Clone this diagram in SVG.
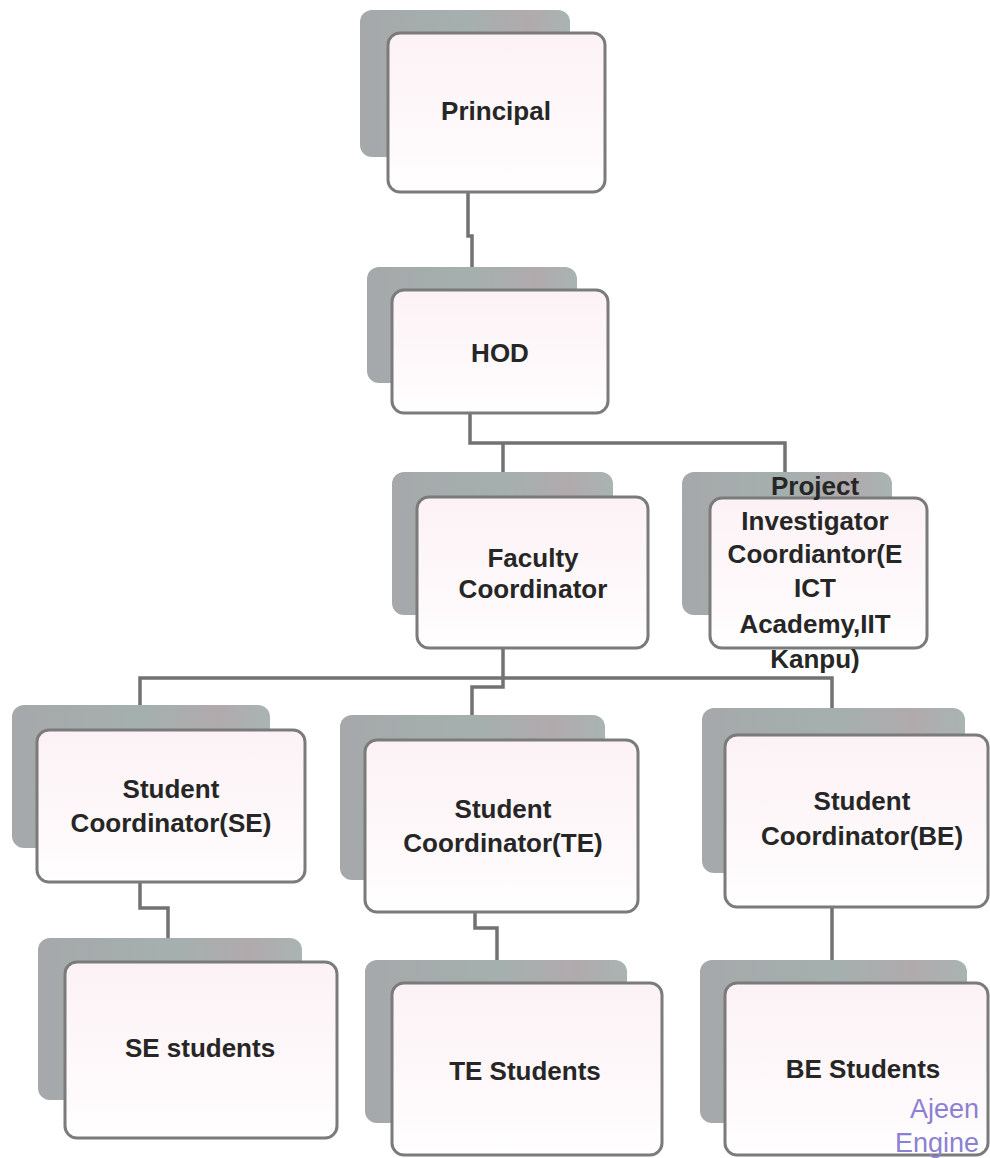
<svg xmlns="http://www.w3.org/2000/svg" width="990" height="1158" viewBox="0 0 990 1158">
  <defs>
    <linearGradient id="backFill" x1="0" y1="0" x2="1" y2="0">
      <stop offset="0" stop-color="#a6a8aa"/>
      <stop offset="0.5" stop-color="#a4b0ae"/>
      <stop offset="0.8" stop-color="#b1aaad"/>
      <stop offset="1" stop-color="#a9b4b2"/>
    </linearGradient>
    <linearGradient id="frontFill" x1="0" y1="0" x2="0" y2="1">
      <stop offset="0" stop-color="#fcf2f5"/>
      <stop offset="0.75" stop-color="#fefafb"/>
      <stop offset="1" stop-color="#ffffff"/>
    </linearGradient>
    <style>
      .back { fill: url(#backFill); }
      .front { fill: url(#frontFill); stroke: #7b7b7b; stroke-width: 3; }
      .lbl { font-family: "Liberation Sans", Arial, sans-serif; font-weight: 700; font-size: 26px; fill: #262626; text-anchor: middle; }
      .conn { fill: none; stroke: #727272; stroke-width: 3.5; }
      .wm { font-family: "Liberation Sans", Arial, sans-serif; font-size: 27px; fill: #8c80d2; }
    </style>
  </defs>
  <rect width="990" height="1158" fill="#ffffff"/>

  <g id="connectors">
    <path class="conn" d="M468,192 V236 H472 V267"/>
    <path class="conn" d="M470,413 V443 H785 V472"/>
    <path class="conn" d="M503,443 V472"/>
    <path class="conn" d="M503,648 V687 H472 V715"/>
    <path class="conn" d="M140,705 V678 H832 V708"/>
    <path class="conn" d="M140,882 V908 H168 V938"/>
    <path class="conn" d="M475,912 V928 H497 V960"/>
    <path class="conn" d="M832,907 V960"/>
  </g>

  <g id="principal">
    <rect class="back" x="360" y="10" width="210" height="147" rx="12"/>
    <rect class="front" x="388" y="33" width="217" height="159" rx="12"/>
    <text class="lbl" x="496" y="120">Principal</text>
  </g>

  <g id="hod">
    <rect class="back" x="367" y="267" width="210" height="116" rx="12"/>
    <rect class="front" x="392" y="290" width="216" height="123" rx="12"/>
    <text class="lbl" x="500" y="362">HOD</text>
  </g>

  <g id="faculty-coordinator">
    <rect class="back" x="392" y="472" width="221" height="143" rx="12"/>
    <rect class="front" x="417" y="497" width="231" height="151" rx="12"/>
    <text class="lbl" x="533" y="567">Faculty</text>
    <text class="lbl" x="533" y="598">Coordinator</text>
  </g>

  <g id="project-investigator">
    <rect class="back" x="682" y="472" width="210" height="143" rx="12"/>
    <rect class="front" x="710" y="498" width="217" height="150" rx="12"/>
    <text class="lbl" x="815" y="495">Project</text>
    <text class="lbl" x="815" y="530">Investigator</text>
    <text class="lbl" x="815" y="563">Coordiantor(E</text>
    <text class="lbl" x="815" y="597">ICT</text>
    <text class="lbl" x="815" y="633">Academy,IIT</text>
    <text class="lbl" x="815" y="668">Kanpu)</text>
  </g>

  <g id="student-coordinator-se">
    <rect class="back" x="12" y="705" width="258" height="143" rx="12"/>
    <rect class="front" x="37" y="730" width="268" height="152" rx="12"/>
    <text class="lbl" x="171" y="798">Student</text>
    <text class="lbl" x="171" y="832">Coordinator(SE)</text>
  </g>

  <g id="student-coordinator-te">
    <rect class="back" x="340" y="715" width="265" height="165" rx="12"/>
    <rect class="front" x="365" y="740" width="273" height="172" rx="12"/>
    <text class="lbl" x="503" y="818">Student</text>
    <text class="lbl" x="503" y="852">Coordinator(TE)</text>
  </g>

  <g id="student-coordinator-be">
    <rect class="back" x="702" y="708" width="263" height="165" rx="12"/>
    <rect class="front" x="725" y="735" width="263" height="172" rx="12"/>
    <text class="lbl" x="862" y="810">Student</text>
    <text class="lbl" x="862" y="845">Coordinator(BE)</text>
  </g>

  <g id="se-students">
    <rect class="back" x="38" y="938" width="264" height="162" rx="12"/>
    <rect class="front" x="65" y="962" width="272" height="176" rx="12"/>
    <text class="lbl" x="200" y="1057">SE students</text>
  </g>

  <g id="te-students">
    <rect class="back" x="365" y="960" width="262" height="163" rx="12"/>
    <rect class="front" x="392" y="983" width="270" height="172" rx="12"/>
    <text class="lbl" x="525" y="1080">TE Students</text>
  </g>

  <g id="be-students">
    <rect class="back" x="700" y="960" width="267" height="163" rx="12"/>
    <rect class="front" x="725" y="983" width="263" height="172" rx="12"/>
    <text class="lbl" x="863" y="1078">BE Students</text>
  </g>

  <g id="watermark">
    <text class="wm" x="910" y="1118">Ajeen</text>
    <text class="wm" x="895" y="1152">Engine</text>
  </g>
</svg>
